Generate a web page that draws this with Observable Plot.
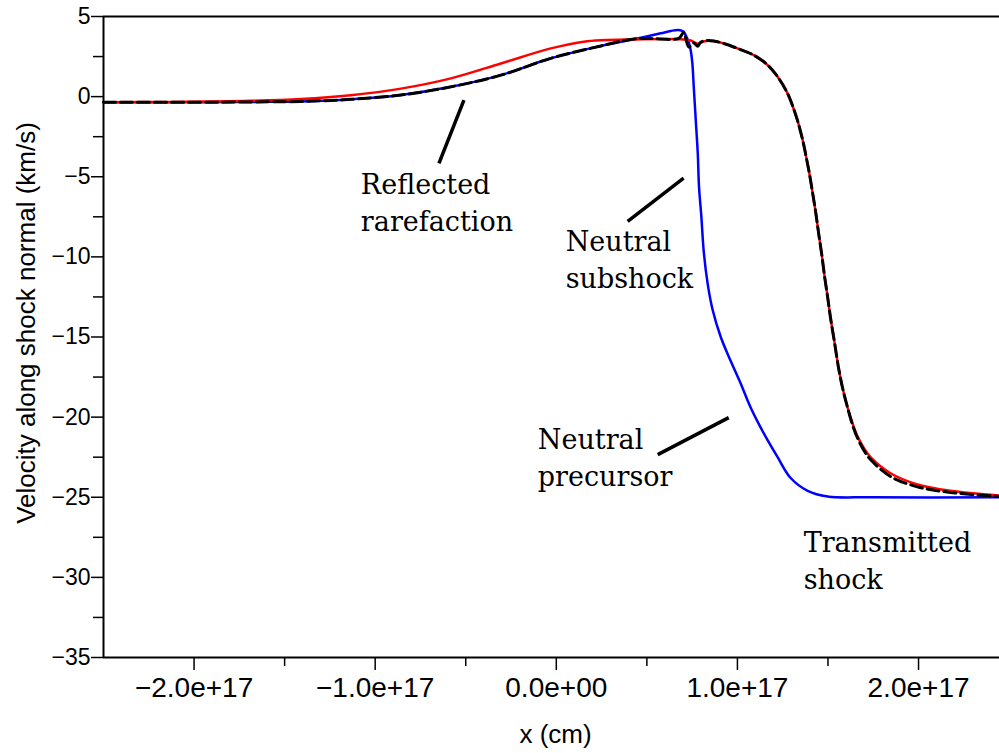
<!DOCTYPE html>
<html><head><meta charset="utf-8">
<script src="https://cdn.jsdelivr.net/npm/d3@7"></script>
<script src="https://cdn.jsdelivr.net/npm/@observablehq/plot@0.6"></script>
<style>body{margin:0;background:#fff;}</style>
</head><body><div id="chart"></div>
<script>
// x values in units of 1e17 cm, velocities in km/s
const XUNIT = 1e17;
const xMin = -2.5, xMax = 2.447;

// Neutral velocity (blue)
const blueX = [-2.5, -1.961, -1.686, -1.41, -1.134, -0.858, -0.582, -0.306, -0.03, 0.246, 0.428, 0.577, 0.632, 0.676, 0.703, 0.714, 0.731, 0.742, 0.751, 0.759, 0.770, 0.781, 0.788, 0.801, 0.814, 0.836, 0.863, 0.908, 0.963, 1.018, 1.073, 1.145, 1.222, 1.294, 1.388, 1.498, 1.735, 2.447];
const blueV = [-0.35, -0.35, -0.33, -0.30, -0.17, 0.10, 0.61, 1.34, 2.39, 3.16, 3.58, 3.95, 4.10, 4.16, 4.05, 3.84, 3.4, 2.9, 2.1, 0.6, -1.47, -3.53, -5.64, -7.5, -9.66, -11.7, -13.3, -15.0, -16.5, -17.9, -19.4, -21.0, -22.5, -23.8, -24.6, -24.95, -25.0, -25.0];

// Ion velocity (red)
const redX = [-2.5, -2.144, -1.686, -1.41, -1.134, -0.858, -0.582, -0.306, -0.03, 0.152, 0.428, 0.703, 0.742, 0.781, 0.814, 0.841, 0.869, 0.924, 1.0, 1.09, 1.167, 1.222, 1.277, 1.313, 1.332, 1.349, 1.366, 1.382, 1.399, 1.415, 1.432, 1.448, 1.465, 1.481, 1.498, 1.514, 1.537, 1.558, 1.581, 1.608, 1.636, 1.663, 1.697, 1.735, 1.845, 1.994, 2.177, 2.447];
const redV = [-0.35, -0.33, -0.26, -0.15, 0.09, 0.5, 1.14, 2.07, 3.01, 3.43, 3.57, 3.57, 3.5, 3.3, 3.44, 3.48, 3.47, 3.32, 3.01, 2.59, 1.97, 1.24, 0.2, -0.84, -1.5, -2.2, -3.0, -3.9, -4.9, -6.0, -7.2, -8.5, -9.8, -11.2, -12.5, -13.8, -15.4, -16.9, -18.2, -19.4, -20.4, -21.2, -21.9, -22.5, -23.5, -24.2, -24.6, -24.9];

// Combined velocity (black dashed)
const blackX = [-2.5, -1.961, -1.686, -1.41, -1.134, -0.858, -0.582, -0.306, -0.03, 0.246, 0.428, 0.521, 0.676, 0.703, 0.731, 0.759, 0.781, 0.797, 0.83, 0.869, 0.924, 1.0, 1.09, 1.167, 1.222, 1.277, 1.313, 1.332, 1.349, 1.366, 1.382, 1.399, 1.415, 1.432, 1.448, 1.465, 1.481, 1.498, 1.514, 1.537, 1.558, 1.581, 1.608, 1.636, 1.663, 1.697, 1.735, 1.845, 1.994, 2.177, 2.447];
const blackV = [-0.35, -0.35, -0.33, -0.30, -0.17, 0.10, 0.61, 1.34, 2.39, 3.16, 3.6, 3.62, 3.64, 3.99, 3.1, 3.34, 3.15, 3.4, 3.5, 3.47, 3.32, 3.01, 2.59, 1.97, 1.24, 0.2, -0.84, -1.5, -2.2, -3.0, -3.9, -4.9, -6.0, -7.2, -8.5, -9.8, -11.2, -12.5, -13.8, -15.4, -16.9, -18.2, -19.4, -20.5, -21.3, -22.05, -22.65, -23.7, -24.35, -24.7, -24.95];

// Ticks
const xMajor = [-2, -1, 0, 1, 2];
const xMinor = [-1.5, -0.5, 0.5, 1.5];
const yMajor = [5, 0, -5, -10, -15, -20, -25, -30, -35];
const yMinor = [2.5, -2.5, -7.5, -12.5, -17.5, -22.5, -27.5, -32.5];

// Annotations
const noteText = ["Reflected\nrarefaction", "Neutral\nsubshock", "Neutral\nprecursor", "Transmitted\nshock"];
const noteX = [-1.079, 0.052, -0.102, 1.366];
const noteV = [-8.41, -11.97, -24.28, -30.72];
const leadX1 = [-0.510, 0.703, 0.952];
const leadV1 = [-0.22, -5.09, -20.03];
const leadX2 = [-0.648, 0.394, 0.560];
const leadV2 = [-4.16, -7.78, -22.34];

const rows = (xs, vs) => xs.map((x, i) => ({x: x * XUNIT, v: vs[i]}));
const notes = noteText.map((t, i) => ({t, x: noteX[i] * XUNIT, v: noteV[i]}));
const leads = leadX1.map((x, i) => ({x1: x * XUNIT, v1: leadV1[i], x2: leadX2[i] * XUNIT, v2: leadV2[i]}));

const fmtX = d => d === 0 ? "0.0e+00" : (d < 0 ? "\u2212" : "") + Math.abs(d / XUNIT).toFixed(1) + "e+17";
const fmtY = d => d < 0 ? "\u2212" + (-d) : String(d);
const sans = "Liberation Sans, Arial, Helvetica, sans-serif";

const chart = Plot.plot({
  width: 999, height: 753,
  marginLeft: 103, marginRight: 0, marginTop: 16, marginBottom: 96,
  x: {domain: [xMin * XUNIT, xMax * XUNIT], label: null},
  y: {domain: [-35, 5], label: null},
  style: {background: "white", color: "black", fontFamily: sans},
  marks: [
    Plot.axisY({ticks: yMajor, tickSize: 12, tickPadding: 1, tickFormat: fmtY, fontSize: 23, strokeWidth: 1.5, label: null}),
    Plot.axisY({ticks: yMinor, tickSize: 10, tickFormat: () => "", strokeWidth: 1.5, label: null}),
    Plot.axisX({ticks: xMajor.map(d => d * XUNIT), tickSize: 13, tickPadding: 7, tickFormat: fmtX, fontSize: 28, strokeWidth: 1.5, label: null}),
    Plot.axisX({ticks: xMinor.map(d => d * XUNIT), tickSize: 9, tickFormat: () => "", strokeWidth: 1.5, label: null}),
    Plot.ruleY([5, -35], {stroke: "black", strokeWidth: 2}),
    Plot.ruleX([xMin * XUNIT], {stroke: "black", strokeWidth: 2}),
    Plot.line(rows(blueX, blueV), {x: "x", y: "v", stroke: "#0000ff", strokeWidth: 2.5, curve: "catmull-rom"}),
    Plot.line(rows(redX, redV), {x: "x", y: "v", stroke: "#ff0000", strokeWidth: 2.5, curve: "catmull-rom"}),
    Plot.line(rows(blackX, blackV), {x: "x", y: "v", stroke: "black", strokeWidth: 3, strokeDasharray: "12,5", curve: "catmull-rom"}),
    Plot.link(leads, {x1: "x1", y1: "v1", x2: "x2", y2: "v2", stroke: "black", strokeWidth: 3.5}),
    Plot.text(notes, {x: "x", y: "v", text: "t", textAnchor: "start", lineAnchor: "bottom", lineHeight: 1.37, fontSize: 27, fontFamily: "DejaVu Serif, serif", fill: "black"}),
    Plot.text(["x (cm)"], {frameAnchor: "bottom", text: d => d, textAnchor: "middle", lineAnchor: "bottom", dy: 85, dx: 4, fontSize: 26, fontFamily: sans, fill: "black"}),
    Plot.text(["Velocity along shock normal (km/s)"], {frameAnchor: "left", text: d => d, textAnchor: "middle", rotate: -90, dx: -77, dy: -14, fontSize: 26, fontFamily: sans, fill: "black"})
  ]
});
document.getElementById("chart").append(chart);
</script>
</body></html>
